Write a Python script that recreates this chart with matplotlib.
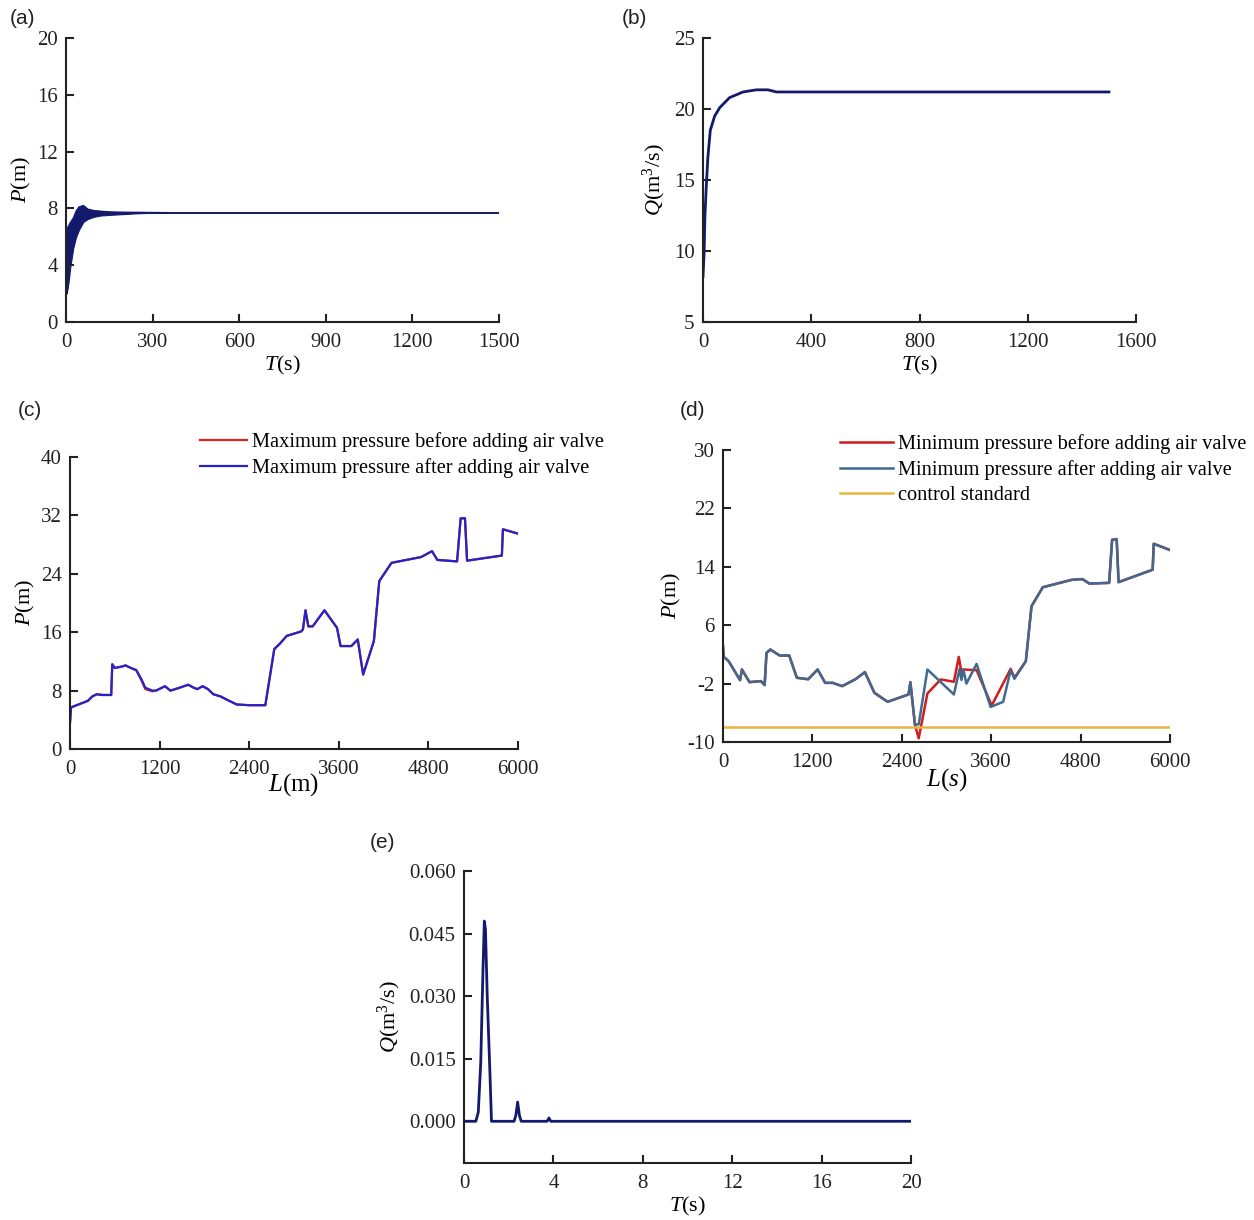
import matplotlib
matplotlib.use("Agg")
import matplotlib.pyplot as plt

plt.rcParams['font.family'] = ['Liberation Serif', 'DejaVu Serif']
plt.rcParams['mathtext.fontset'] = 'custom'
plt.rcParams['mathtext.it'] = 'Liberation Serif:italic'
plt.rcParams['mathtext.rm'] = 'Liberation Serif'
plt.rcParams['axes.unicode_minus'] = False

# ---------------- data ----------------
# (a) pressure vs time: oscillating band envelope then steady line
T_env = [0, 2, 5, 10, 15, 25, 35, 45, 60, 75, 95, 120, 155, 200, 250, 300, 350]
P_up = [5.5, 6.5, 6.6, 6.8, 7.0, 7.3, 7.8, 8.1, 8.2, 7.95, 7.85, 7.8, 7.75, 7.73, 7.72, 7.71, 7.7]
P_lo = [4.0, 2.0, 2.3, 3.0, 3.9, 5.2, 6.0, 6.5, 7.05, 7.25, 7.4, 7.5, 7.55, 7.6, 7.66, 7.69, 7.7]
T_a = [350, 1500]
P_a = [7.7, 7.7]

# (b) flow vs time
T_b = [0, 4, 7, 12, 18, 27, 43, 62, 98, 148, 197, 240, 271, 300, 1500]
Q_b = [8.2, 9.8, 12.4, 14.5, 16.6, 18.5, 19.5, 20.1, 20.8, 21.2, 21.35, 21.35, 21.2, 21.2, 21.2]

# (c) maximum pressure along pipeline
L_c = [0, 14, 240, 298, 360, 432, 552, 566, 600, 696, 744, 816, 888, 960, 1008,
       1104, 1152, 1272, 1344, 1440, 1584, 1656, 1704, 1776, 1848, 1920, 2016,
       2112, 2232, 2400, 2616, 2736, 2808, 2904, 3096, 3120, 3154, 3192, 3250,
       3408, 3576, 3624, 3768, 3854, 3926, 4070, 4142, 4306, 4704, 4848, 4920,
       5184, 5232, 5290, 5318, 5784, 5798, 6000]
Pmax_after = [3.6, 5.7, 6.6, 7.2, 7.5, 7.4, 7.4, 11.6, 11.1, 11.3, 11.45, 11.1, 10.8,
              9.5, 8.4, 8.0, 8.0, 8.6, 8.0, 8.3, 8.8, 8.4, 8.2, 8.6, 8.2, 7.5, 7.2,
              6.7, 6.1, 6.0, 6.0, 13.7, 14.4, 15.5, 16.1, 16.4, 19.0, 16.8, 16.8,
              19.0, 16.6, 14.1, 14.1, 15.0, 10.2, 14.8, 23.0, 25.5, 26.3, 27.1, 25.9,
              25.7, 31.6, 31.6, 25.8, 26.5, 30.1, 29.5]
Pmax_before = [3.6, 5.7, 6.6, 7.2, 7.5, 7.4, 7.4, 11.6, 11.1, 11.3, 11.45, 11.1, 10.8,
               9.3, 8.2, 7.9, 8.0, 8.6, 8.0, 8.3, 8.8, 8.4, 8.2, 8.6, 8.2, 7.5, 7.2,
               6.7, 6.1, 6.0, 6.0, 13.7, 14.4, 15.5, 16.1, 16.4, 19.0, 16.8, 16.8,
               19.0, 16.6, 14.1, 14.1, 15.0, 10.2, 14.8, 23.0, 25.5, 26.3, 27.1, 25.9,
               25.7, 31.6, 31.6, 25.8, 26.5, 30.1, 29.5]

# (d) minimum pressure along pipeline
L_d_after = [0, 10, 76, 229, 254, 356, 508, 559, 584, 635, 762, 889, 991, 1143, 1270,
             1372, 1473, 1600, 1778, 1905, 2032, 2210, 2490, 2515, 2576, 2627, 2744,
             3099, 3176, 3201, 3226, 3267, 3404, 3592, 3760, 3861, 3912, 4065, 4141,
             4293, 4674, 4776, 4827, 4918, 5183, 5223, 5284, 5310, 5767, 5782, 6000]
Pmin_after = [3.1, 1.66, 1.07, -1.53, -0.07, -1.8, -1.66, -2.2, 2.2, 2.67, 1.84, 1.84,
              -1.2, -1.4, -0.07, -1.9, -1.9, -2.35, -1.4, -0.43, -3.26, -4.49, -3.49,
              -1.8, -7.59, -7.59, -0.07, -3.49, 0.02, -1.5, -0.07, -2.0, 0.7, -5.2,
              -4.5, -0.16, -1.34, 1.07, 8.6, 11.2, 12.2, 12.3, 12.3, 11.7, 11.8, 17.7,
              17.8, 11.9, 13.6, 17.15, 16.3]
L_d_before = [0, 10, 76, 229, 254, 356, 508, 559, 584, 635, 762, 889, 991, 1143, 1270,
              1372, 1473, 1600, 1778, 1905, 2032, 2210, 2490, 2515, 2576, 2627, 2744,
              2922, 3099, 3165, 3201, 3226, 3404, 3607, 3861, 3912, 4065, 4141,
              4293, 4674, 4776, 4827, 4918, 5183, 5223, 5284, 5310, 5767, 5782, 6000]
Pmin_before = [3.1, 1.66, 1.07, -1.53, -0.07, -1.8, -1.66, -2.2, 2.2, 2.67, 1.84, 1.84,
               -1.2, -1.4, -0.07, -1.9, -1.9, -2.35, -1.4, -0.43, -3.26, -4.49, -3.49,
               -1.8, -7.6, -9.5, -3.35, -1.43, -1.75, 1.66, -0.5, -0.07, -0.16, -5.0,
               0.02, -1.2, 1.07, 8.6, 11.2, 12.2, 12.3, 12.3, 11.7, 11.8, 17.7,
               17.8, 11.9, 13.6, 17.15, 16.3]
L_std = [0, 6000]
P_std = [-8.0, -8.0]

# (e) air valve flow vs time
T_e = [0, 0.53, 0.64, 0.75, 0.85, 0.91, 0.96, 1.04, 1.17, 1.23, 2.24, 2.32, 2.40,
       2.48, 2.56, 3.72, 3.80, 3.88, 20]
Q_e = [0, 0, 0.0022, 0.0142, 0.0365, 0.048, 0.046, 0.030, 0.010, 0, 0, 0.0014,
       0.0046, 0.0014, 0, 0, 0.0008, 0, 0]

# ---------------- figure ----------------
W, H = 1254, 1220
fig = plt.figure(figsize=(W / 100, H / 100), dpi=100)

def add_ax(left, right, top, bottom):
    return fig.add_axes([left / W, 1 - bottom / H, (right - left) / W, (bottom - top) / H])

TICK_FS = 15
LAB_FS = 16
NAVY = '#141a6b'

def style(ax):
    for s in ('top', 'right'):
        ax.spines[s].set_visible(False)
    for s in ('left', 'bottom'):
        ax.spines[s].set_linewidth(1.5)
        ax.spines[s].set_color('#222222')
    ax.tick_params(direction='in', length=6, width=1.5, labelsize=TICK_FS,
                   colors='#222222')
    ax.tick_params(axis='x', pad=8)
    ax.tick_params(axis='y', pad=6)

# (a)
ax = add_ax(66, 499, 38, 322)
style(ax)
ax.fill_between(T_env, P_lo, P_up, color=NAVY, lw=0.8)
ax.plot(T_env, P_up, color=NAVY, lw=1.0)
ax.plot(T_a, P_a, color=NAVY, lw=1.4)
ax.set_xlim(0, 1500)
ax.set_ylim(0, 20)
ax.set_xticks([0, 300, 600, 900, 1200, 1500])
ax.set_yticks([0, 4, 8, 12, 16, 20])
ax.set_xlabel(r'$T$(s)', fontsize=LAB_FS, labelpad=1)
ax.set_ylabel(r'$P$(m)', fontsize=LAB_FS, labelpad=3)

# (b)
ax = add_ax(703, 1136, 38, 322)
style(ax)
ax.plot(T_b, Q_b, color=NAVY, lw=2.0)
ax.set_xlim(0, 1600)
ax.set_ylim(5, 25)
ax.set_xticks([0, 400, 800, 1200, 1600])
ax.set_yticks([5, 10, 15, 20, 25])
ax.set_xlabel(r'$T$(s)', fontsize=LAB_FS, labelpad=1)
ax.set_ylabel(r'$Q$(m$^3$/s)', fontsize=LAB_FS, labelpad=4)

# (c)
ax = add_ax(70, 518, 457, 749)
style(ax)
l1, = ax.plot(L_c, Pmax_before, color='#e02424', lw=1.6)
l2, = ax.plot(L_c, Pmax_after, color='#2424c8', lw=1.6)
ax.set_xlim(0, 6000)
ax.set_ylim(0, 40)
ax.set_xticks([0, 1200, 2400, 3600, 4800, 6000])
ax.set_yticks([0, 8, 16, 24, 32, 40])
ax.set_xlabel(r'$L$(m)', fontsize=LAB_FS + 2, labelpad=-6)
ax.set_ylabel(r'$P$(m)', fontsize=LAB_FS, labelpad=3)
fig.legend([l1, l2], ['Maximum pressure before adding air valve',
                      'Maximum pressure after adding air valve'],
           loc='upper left', bbox_to_anchor=(200 / W, 1 - 432 / H),
           frameon=False, fontsize=14.7, handlelength=2.3, handletextpad=0.25,
           labelspacing=0.3, borderpad=0, borderaxespad=0)

# (d)
ax = add_ax(723, 1170, 450, 742)
style(ax)
m1, = ax.plot(L_d_before, Pmin_before, color='#d01c1c', lw=1.8)
m2, = ax.plot(L_d_after, Pmin_after, color='#41698f', lw=1.8)
m3, = ax.plot(L_std, P_std, color='#e8b440', lw=1.8)
ax.set_xlim(0, 6000)
ax.set_ylim(-10, 30)
ax.set_xticks([0, 1200, 2400, 3600, 4800, 6000])
ax.set_yticks([-10, -2, 6, 14, 22, 30])
ax.set_xlabel(r'$L$($s$)', fontsize=LAB_FS + 2, labelpad=-4)
ax.set_ylabel(r'$P$(m)', fontsize=LAB_FS, labelpad=3)
fig.legend([m1, m2, m3], ['Minimum pressure before adding air valve',
                          'Minimum pressure after adding air valve',
                          'control standard'],
           loc='upper left', bbox_to_anchor=(840 / W, 1 - 434 / H),
           frameon=False, fontsize=14.7, handlelength=2.6, handletextpad=0.25,
           labelspacing=0.3, borderpad=0, borderaxespad=0)

# (e)
ax = add_ax(464, 911, 871, 1163)
style(ax)
ax.plot(T_e, Q_e, color=NAVY, lw=2.0)
ax.set_xlim(0, 20)
ax.set_ylim(-0.010, 0.060)
ax.set_xticks([0, 4, 8, 12, 16, 20])
ax.set_yticks([0.000, 0.015, 0.030, 0.045, 0.060])
ax.set_yticklabels(['0.000', '0.015', '0.030', '0.045', '0.060'])
ax.set_xlabel(r'$T$(s)', fontsize=LAB_FS, labelpad=1)
ax.set_ylabel(r'$Q$(m$^3$/s)', fontsize=LAB_FS, labelpad=4)

# panel labels
for lab, x, y in [('(a)', 10, 18), ('(b)', 622, 18), ('(c)', 18, 410),
                  ('(d)', 680, 410), ('(e)', 370, 842)]:
    fig.text(x / W, 1 - y / H, lab, fontsize=15, family='Liberation Sans',
             va='center', ha='left', color='#222222')

fig.savefig('out.png', dpi=100, facecolor='white')
